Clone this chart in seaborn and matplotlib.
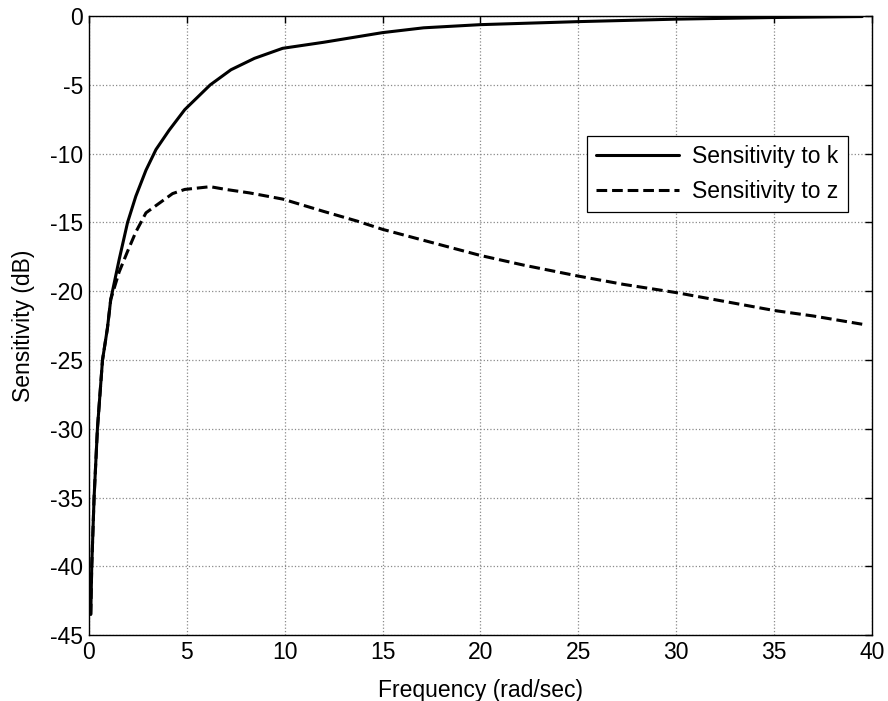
# Sensitivity vs frequency (MATLAB-style line chart) rebuilt with seaborn
import numpy as np
import pandas as pd
import matplotlib
matplotlib.use("Agg")
import matplotlib.pyplot as plt
import seaborn as sns

# values
freq_k = [0.1, 0.15, 0.27, 0.44, 0.7, 0.95, 1.12, 1.55, 1.98, 2.4, 2.92,
          3.43, 4.1, 4.9, 6.2, 7.26, 8.46, 9.9, 12.0, 15.0, 17.1, 20.0,
          25.0, 30.0, 35.0, 39.5]
sens_k = [-43.5, -40.0, -35.0, -30.0, -25.0, -22.7, -20.6, -17.7, -15.0,
          -13.1, -11.2, -9.7, -8.3, -6.8, -5.0, -3.9, -3.07, -2.34, -1.9,
          -1.2, -0.85, -0.62, -0.4, -0.22, -0.1, -0.03]

freq_z = [0.1, 0.15, 0.27, 0.44, 0.7, 0.95, 1.12, 1.55, 1.98, 2.4, 2.92,
          3.6, 4.28, 4.9, 6.2, 7.0, 8.2, 9.9, 11.3, 12.0, 13.7, 15.0,
          17.1, 20.0, 22.2, 25.0, 27.3, 30.0, 35.0, 37.0, 39.5]
sens_z = [-43.5, -40.0, -35.0, -30.0, -25.0, -22.7, -20.6, -18.6, -17.1,
          -15.7, -14.3, -13.6, -12.9, -12.6, -12.4, -12.6, -12.85, -13.3,
          -13.9, -14.2, -14.9, -15.5, -16.3, -17.4, -18.1, -18.9, -19.5,
          -20.1, -21.4, -21.8, -22.4]

x_ticks = [0, 5, 10, 15, 20, 25, 30, 35, 40]
y_ticks = [0, -5, -10, -15, -20, -25, -30, -35, -40, -45]

sns.set_style("white")
plt.rcParams["font.family"] = ["Liberation Sans", "DejaVu Sans"]
plt.rcParams["axes.unicode_minus"] = False
plt.rcParams["text.color"] = "black"
plt.rcParams["axes.labelcolor"] = "black"

fig = plt.figure(figsize=(8.88, 7.01), dpi=100)
ax = fig.add_axes([0.100, 0.094, 0.882, 0.883])

df_k = pd.DataFrame({"freq": freq_k, "sens": sens_k})
df_z = pd.DataFrame({"freq": freq_z, "sens": sens_z})

sns.lineplot(data=df_k, x="freq", y="sens", ax=ax, color="black",
             linewidth=2.2, label="Sensitivity to k")
sns.lineplot(data=df_z, x="freq", y="sens", ax=ax, color="black",
             linewidth=2.2, linestyle="--", label="Sensitivity to z")
ax.lines[1].set_dashes((3.5, 1.6))

ax.set_xlim(0, 40)
ax.set_ylim(-45, 0)
ax.set_xticks(x_ticks)
ax.set_yticks(y_ticks)
ax.tick_params(direction="in", length=5, width=1, labelsize=16.5,
               top=True, right=True, pad=4, colors="black")
ax.grid(True, color="#8a8a8a", linestyle=":", linewidth=0.9)
for s in ax.spines.values():
    s.set_color("black")
    s.set_linewidth(1.0)

ax.set_xlabel("Frequency (rad/sec)", fontsize=16.5, labelpad=11, color="black")
ax.set_ylabel("Sensitivity (dB)", fontsize=16.5, labelpad=11, color="black")

leg = ax.legend(loc="upper right", bbox_to_anchor=(0.969, 0.806),
                fontsize=16.5, frameon=True, fancybox=False, framealpha=1,
                edgecolor="black", handlelength=3.6, borderpad=0.4,
                labelspacing=0.5, handletextpad=0.6, borderaxespad=0)
leg.get_frame().set_linewidth(0.9)
leg.get_lines()[1].set_dashes((3.5, 1.6))
for t in leg.get_texts():
    t.set_color("black")

fig.savefig("out.png", dpi=100)
